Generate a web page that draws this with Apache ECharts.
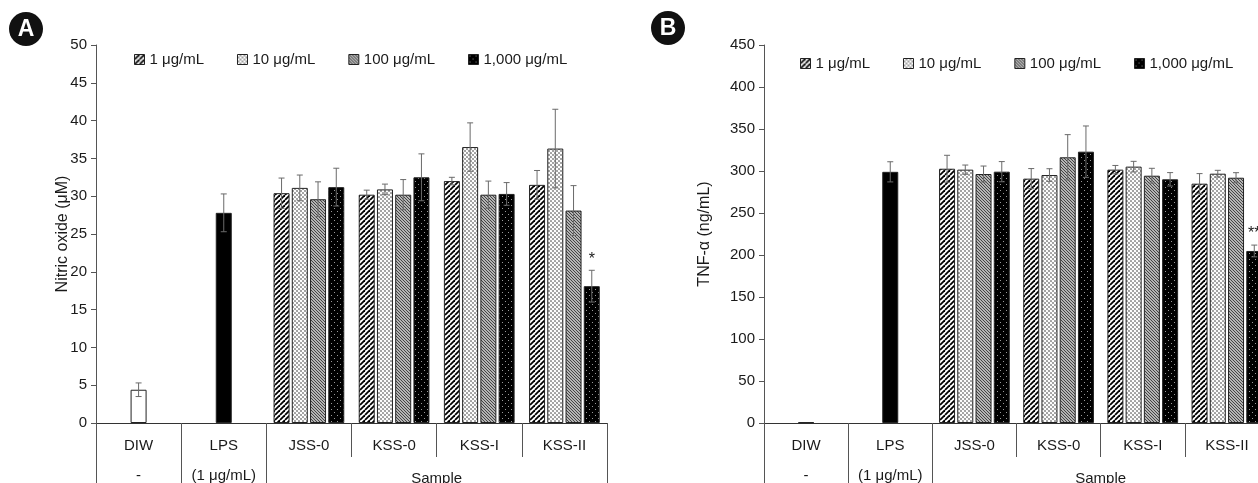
<!DOCTYPE html>
<html><head><meta charset="utf-8">
<script src="https://cdn.jsdelivr.net/npm/echarts@6/dist/echarts.min.js"></script>
<style>html,body{margin:0;padding:0;background:#fff}#c{width:1258px;height:483px}</style>
</head><body><div id="c"></div>
<script>
// ---------- data ----------
const categories = ['DIW', 'LPS', 'JSS-0', 'KSS-0', 'KSS-I', 'KSS-II'];
const subLabels = ['-', '(1 μg/mL)', '', '', '', ''];
const groupLabel = 'Sample';
const seriesNames = ['1 μg/mL', '10 μg/mL', '100 μg/mL', '1,000 μg/mL'];
const panelLetters = ['A', 'B'];
const yTitles = ['Nitric oxide (μM)', 'TNF-α (ng/mL)'];

// Panel A: nitric oxide (μM)
const noControl    = [4.4, 27.8, null, null, null, null];
const noControlErr = [0.9, 2.5, null, null, null, null];
const no1     = [null, null, 30.4, 30.2, 32.0, 31.5];
const no1Err  = [null, null, 2.0, 0.6, 0.5, 1.9];
const no10    = [null, null, 31.1, 30.9, 36.5, 36.3];
const no10Err = [null, null, 1.7, 0.7, 3.2, 5.2];
const no100   = [null, null, 29.6, 30.2, 30.2, 28.1];
const no100Err= [null, null, 2.3, 2.0, 1.8, 3.3];
const no1000  = [null, null, 31.2, 32.5, 30.3, 18.1];
const no1000Err=[null, null, 2.5, 3.1, 1.5, 2.1];
const noSig1000 = ['', '', '', '', '', '*'];

// Panel B: TNF-alpha (ng/mL)
const tnfControl    = [0.8, 299, null, null, null, null];
const tnfControlErr = [0, 12, null, null, null, null];
const tnf1     = [null, null, 302.7, 290.9, 301.6, 284.9];
const tnf1Err  = [null, null, 16, 12, 5, 12];
const tnf10    = [null, null, 301.6, 295.2, 305.2, 296.8];
const tnf10Err = [null, null, 5.5, 7.5, 6.3, 4];
const tnf100   = [null, null, 296.4, 316.3, 294.4, 292.0];
const tnf100Err= [null, null, 9.5, 27, 8.8, 6];
const tnf1000  = [null, null, 299.2, 323.0, 290.1, 204.8];
const tnf1000Err=[null, null, 12, 30.6, 8, 7];
const tnfSig1000 = ['', '', '', '', '', '**'];

const yMax = [50, 450];
const yStep = [5, 50];

// ---------- styles ----------
const FONT = "'Liberation Sans', Arial, sans-serif";
const TXT = '#1a1a1a';
const LINE = '#555';
const BAR_W = 16, GAP = 0.14;
const STEP = BAR_W * (1 + GAP);

function tile(size, draw) {
  const c = document.createElement('canvas');
  c.width = size; c.height = size;
  draw(c.getContext('2d'), size);
  return { image: c, repeat: 'repeat' };
}
const patterns = [
  tile(5, (g, s) => { g.fillStyle = '#fff'; g.fillRect(0, 0, s, s); g.strokeStyle = '#000'; g.lineWidth = 1.8;
    for (const k of [-s, 0, s]) { g.beginPath(); g.moveTo(k, s); g.lineTo(k + s, 0); g.stroke(); } }),
  tile(4, (g, s) => { g.fillStyle = '#8c8c8c'; g.fillRect(0, 0, s, s); g.fillStyle = '#fff';
    for (const [cx, cy] of [[1, 1], [3, 3], [-1, 3], [3, -1], [1, 5], [5, 1], [-1, -1], [5, 5]]) {
      g.beginPath(); g.arc(cx, cy, 1.25, 0, Math.PI * 2); g.fill(); } }),
  tile(3, (g, s) => { g.fillStyle = '#b4b4b4'; g.fillRect(0, 0, s, s); g.strokeStyle = '#444'; g.lineWidth = 1;
    for (const k of [-s, 0, s]) { g.beginPath(); g.moveTo(k, 0); g.lineTo(k + s, s); g.stroke(); } }),
  tile(6, (g, s) => { g.fillStyle = '#000'; g.fillRect(0, 0, s, s); g.fillStyle = '#9a9a9a'; g.fillRect(1, 1, 1, 1); g.fillRect(4, 4, 1, 1); })
];
const controlColors = ['#ffffff', '#000000'];

const panels = [
  { control: noControl, controlErr: noControlErr, groups: [no1, no10, no100, no1000],
    errs: [no1Err, no10Err, no100Err, no1000Err], sig: [null, null, null, noSig1000] },
  { control: tnfControl, controlErr: tnfControlErr, groups: [tnf1, tnf10, tnf100, tnf1000],
    errs: [tnf1Err, tnf10Err, tnf100Err, tnf1000Err], sig: [null, null, null, tnfSig1000] }
];

const grids = [
  { left: 96, top: 45, width: 511, height: 378, outerBoundsMode: 'none', containLabel: false },
  { left: 764, top: 45, width: 505, height: 378, outerBoundsMode: 'none', containLabel: false }
];
const legendPos = [{ left: 134, top: 52 }, { left: 800, top: 56 }];
const nameGaps = [25, 51];

const xAxes = [], yAxes = [], series = [], legends = [];
panels.forEach((p, pi) => {
  xAxes.push({
    type: 'category', gridIndex: pi, data: categories, position: 'bottom',
    axisLine: { lineStyle: { color: '#333', width: 1 } },
    axisTick: { show: true, length: 34, interval: (i) => i >= 3, lineStyle: { color: LINE } },
    axisLabel: { interval: 0, margin: 15, fontSize: 15, color: TXT, fontFamily: FONT }
  });
  xAxes.push({
    type: 'category', gridIndex: pi, data: categories, position: 'bottom',
    axisLine: { show: false },
    axisTick: { show: true, length: 60, interval: (i) => i <= 2, lineStyle: { color: LINE } },
    axisLabel: { interval: 0, margin: 45, fontSize: 15, color: TXT, fontFamily: FONT,
      formatter: (v, i) => subLabels[i] }
  });
  yAxes.push({
    type: 'value', gridIndex: pi, min: 0, max: yMax[pi], interval: yStep[pi],
    name: yTitles[pi], nameLocation: 'middle', nameGap: nameGaps[pi], nameMoveOverlap: false,
    nameTextStyle: { fontSize: 16, color: TXT, fontFamily: FONT },
    axisLine: { show: true, lineStyle: { color: LINE } },
    axisTick: { show: true, length: 5, lineStyle: { color: LINE } },
    axisLabel: { fontSize: 15, color: TXT, margin: 9, fontFamily: FONT },
    splitLine: { show: false }
  });
  series.push({
    type: 'bar', xAxisIndex: pi * 2 + 1, yAxisIndex: pi, barWidth: BAR_W, silent: true,
    data: p.control.map((v, i) => v == null ? null : { value: v, itemStyle: { color: controlColors[i] } }),
    itemStyle: { borderColor: '#222', borderWidth: 1 }
  });
  p.groups.forEach((arr, gi) => {
    series.push({
      type: 'bar', name: seriesNames[gi], xAxisIndex: pi * 2, yAxisIndex: pi,
      barWidth: BAR_W, barGap: (GAP * 100) + '%', silent: true,
      data: arr, itemStyle: { color: patterns[gi], borderColor: '#222', borderWidth: 1 }
    });
  });
  const errData = [], sigList = [];
  p.control.forEach((v, i) => { if (v != null) { errData.push([i, v, p.controlErr[i], 0]); sigList.push(''); } });
  p.groups.forEach((arr, gi) => arr.forEach((v, i) => {
    if (v != null) { errData.push([i, v, p.errs[gi][i], gi - 1.5]); sigList.push(p.sig[gi] ? p.sig[gi][i] : ''); }
  }));
  series.push({
    type: 'custom', xAxisIndex: pi * 2, yAxisIndex: pi, silent: true, z: 5,
    data: errData,
    renderItem: (params, api) => {
      const c = api.value(0), v = api.value(1), e = api.value(2), slot = api.value(3);
      const base = api.coord([c, v]);
      const top = api.coord([c, v + e]);
      const bot = api.coord([c, Math.max(0, v - e)]);
      const x = base[0] + slot * STEP;
      const st = { stroke: '#6a6a6a', lineWidth: 1 };
      const ch = [];
      if (e > 0) {
        ch.push({ type: 'line', shape: { x1: x, y1: bot[1], x2: x, y2: top[1] }, style: st });
        ch.push({ type: 'line', shape: { x1: x - 3, y1: top[1], x2: x + 3, y2: top[1] }, style: st });
        ch.push({ type: 'line', shape: { x1: x - 3, y1: bot[1], x2: x + 3, y2: bot[1] }, style: st });
      }
      const s = sigList[params.dataIndex];
      if (s) ch.push({ type: 'text', style: { text: s, x: x, y: top[1] - 3, align: 'center', verticalAlign: 'bottom',
        font: '16px ' + FONT, fill: TXT } });
      return { type: 'group', children: ch };
    }
  });
  legends.push({
    left: legendPos[pi].left, top: legendPos[pi].top, orient: 'horizontal', padding: 0,
    itemWidth: 10, itemHeight: 10, itemGap: 33, icon: 'rect', selectedMode: false,
    itemStyle: { borderColor: '#222', borderWidth: 1 },
    textStyle: { fontSize: 15, color: TXT, fontFamily: FONT },
    data: seriesNames
  });
});

const chart = echarts.init(document.getElementById('c'), null, { renderer: 'canvas' });
chart.setOption({
  animation: false,
  backgroundColor: '#fff',
  textStyle: { fontFamily: FONT },
  grid: grids, xAxis: xAxes, yAxis: yAxes, series: series, legend: legends
});

const badgePos = [[26, 29], [668, 28]];
const gfx = [];
panels.forEach((p, pi) => {
  const xa = chart.convertToPixel({ xAxisIndex: pi * 2 }, categories[3]);
  const xb = chart.convertToPixel({ xAxisIndex: pi * 2 }, categories[4]);
  const y0 = chart.convertToPixel({ yAxisIndex: pi }, 0);
  gfx.push({ type: 'text', x: (xa + xb) / 2, y: y0 + 56, style: { text: groupLabel, align: 'center', verticalAlign: 'middle',
    font: '15px ' + FONT, fill: TXT } });
  gfx.push({ type: 'circle', shape: { cx: badgePos[pi][0], cy: badgePos[pi][1], r: 17 }, style: { fill: '#111' } });
  gfx.push({ type: 'text', x: badgePos[pi][0], y: badgePos[pi][1] + 1, style: { text: panelLetters[pi], align: 'center',
    verticalAlign: 'middle', font: 'bold 23px ' + FONT, fill: '#fff' } });
});
chart.setOption({ graphic: gfx });
</script></body></html>
